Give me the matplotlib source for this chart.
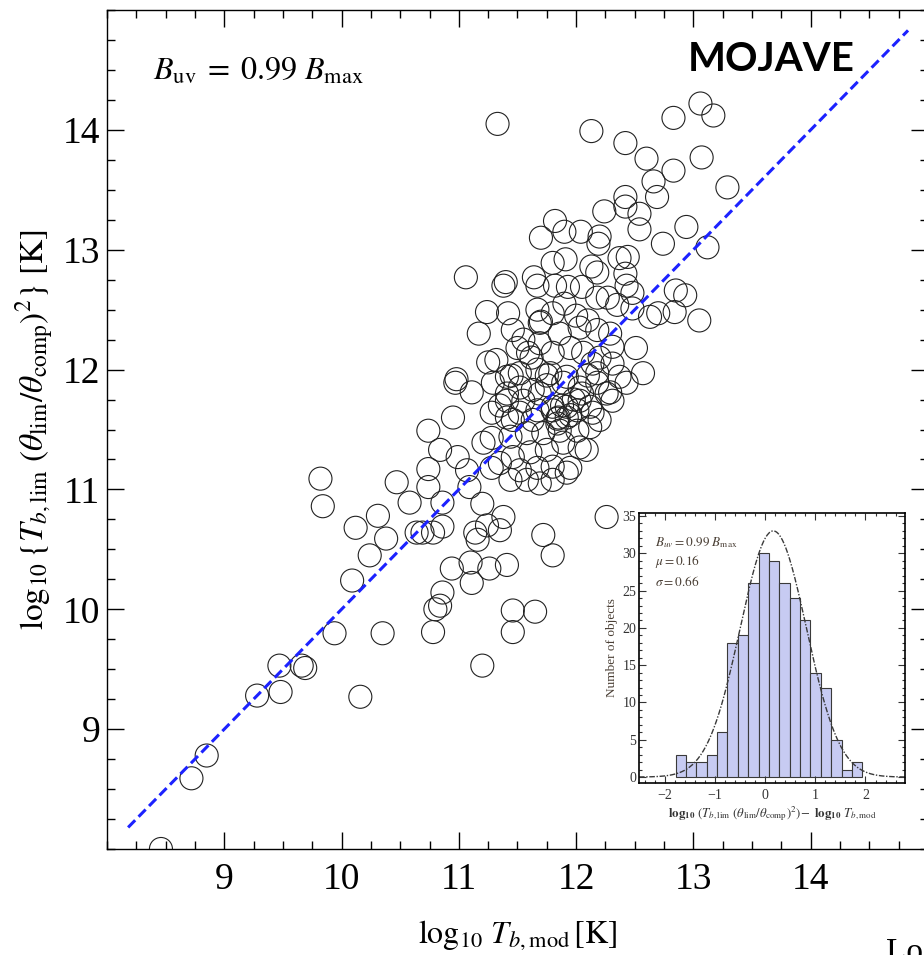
import numpy as np
import matplotlib
matplotlib.use('Agg')
import matplotlib.pyplot as plt
from matplotlib.ticker import MultipleLocator

plt.rcParams['font.family'] = ['Liberation Serif', 'DejaVu Serif']
plt.rcParams['mathtext.fontset'] = 'stix'

# log10 T_b,mod (x) and log10 T_b,lim (theta_lim/theta_comp)^2 (y)
t_mod = [11.33, 12.13, 12.42, 12.60, 12.83, 13.17, 13.06, 12.83, 12.66, 12.69,
         13.07, 13.29, 12.42, 12.42, 12.24, 12.54, 12.54, 12.94, 12.74, 13.12,
         11.82, 11.90, 12.04, 11.70, 12.20, 12.19, 11.80, 11.91, 11.64, 12.13,
         12.18, 12.37, 12.44, 12.42, 11.06, 11.40, 11.38, 11.67, 11.82, 11.93,
         12.05, 12.18, 12.27, 12.43, 12.48, 12.35, 12.48, 12.85, 12.93, 12.84,
         12.70, 12.63, 13.05, 11.24, 11.42, 11.17, 11.46, 11.67, 11.69, 11.80,
         11.90, 12.03, 12.10, 12.18, 11.86, 12.29, 12.31, 12.51, 11.25, 11.32,
         11.50, 11.59, 11.69, 11.80, 11.95, 12.06, 12.14, 12.31, 12.57, 10.98,
         11.41, 11.52, 11.67, 11.78, 11.92, 12.18, 12.37,
         9.82, 9.84, 10.12, 10.31, 10.38, 10.24, 10.09, 10.47, 10.58, 10.74,
         10.84, 10.74, 10.74, 10.86, 10.64, 10.69, 10.78, 10.86, 10.94, 10.86,
         10.80, 10.84, 10.78, 10.35, 9.94, 9.47, 9.66, 9.69, 9.48, 9.28,
         10.16, 8.85, 8.72, 8.46, 11.20, 11.10, 11.11, 11.26, 11.20, 11.14,
         11.16, 11.24, 11.09, 11.07, 10.95, 10.99, 11.11, 11.21, 11.28, 11.28,
         11.28, 10.97, 11.29,
         11.41, 11.52, 11.63, 11.75, 11.89, 12.03, 12.18, 12.29, 12.43, 11.41,
         11.52, 11.67, 11.80, 11.84, 11.92, 12.01, 12.12, 12.20, 12.31, 11.44,
         11.58, 11.72, 11.86, 12.01, 12.12, 12.03, 12.09, 11.89, 11.75, 11.61,
         11.46, 11.35, 11.52, 11.67, 11.80, 11.95, 11.92, 11.44, 11.69, 11.58,
         11.80, 12.26, 11.38, 11.72, 11.80, 11.41, 11.46, 11.65, 11.46, 11.35,
         11.95, 11.88, 11.98, 11.85, 12.05, 11.75, 11.62, 11.55, 11.70, 12.00,
         12.20, 11.45, 11.35, 12.10,
         11.41, 11.55, 11.69, 11.80, 11.92, 12.03, 12.14, 11.46, 11.63, 11.84,
         12.26]
t_lim = [14.05, 13.99, 13.89, 13.76, 14.10, 14.12, 14.22, 13.66, 13.57, 13.44,
         13.77, 13.52, 13.44, 13.36, 13.32, 13.30, 13.17, 13.19, 13.05, 13.02,
         13.24, 13.15, 13.15, 13.10, 13.11, 13.05, 12.89, 12.92, 12.77, 12.86,
         12.81, 12.93, 12.94, 12.80, 12.77, 12.73, 12.70, 12.70, 12.70, 12.69,
         12.69, 12.60, 12.60, 12.70, 12.64, 12.54, 12.51, 12.66, 12.62, 12.48,
         12.47, 12.44, 12.41, 12.48, 12.47, 12.30, 12.33, 12.50, 12.39, 12.47,
         12.55, 12.35, 12.41, 12.33, 12.30, 12.30, 12.19, 12.18, 12.06, 12.08,
         12.18, 12.14, 12.22, 12.14, 12.18, 12.14, 12.05, 12.05, 11.97, 11.92,
         11.94, 11.97, 12.00, 11.97, 11.94, 11.97, 11.94,
         11.09, 10.86, 10.68, 10.78, 10.59, 10.45, 10.24, 11.06, 10.89, 11.49,
         11.33, 11.17, 11.02, 10.89, 10.64, 10.64, 10.64, 10.69, 10.34, 10.14,
         10.00, 10.03, 9.81, 9.80, 9.80, 9.53, 9.53, 9.51, 9.31, 9.28,
         9.27, 8.78, 8.59, 8.00, 9.53, 10.39, 10.22, 10.34, 10.88, 10.64,
         10.58, 10.70, 11.02, 11.16, 11.60, 11.27, 11.81, 11.39, 11.43, 11.18,
         11.64, 11.89, 11.89,
         11.80, 11.85, 11.83, 11.87, 11.89, 11.85, 11.89, 11.81, 11.89, 11.60,
         11.64, 11.66, 11.69, 11.55, 11.60, 11.66, 11.69, 11.58, 11.74, 11.44,
         11.47, 11.47, 11.49, 11.49, 11.52, 11.35, 11.33, 11.39, 11.33, 11.31,
         11.27, 11.22, 11.16, 11.18, 11.19, 11.18, 11.14, 11.08, 11.05, 11.08,
         11.08, 10.77, 10.77, 10.62, 10.45, 10.37, 9.99, 9.98, 9.81, 10.66,
         11.62, 11.70, 11.75, 11.60, 11.80, 11.95, 12.10, 12.25, 12.40, 12.45,
         12.10, 11.95, 11.70, 11.95,
         11.74, 11.74, 11.80, 11.66, 11.69, 11.74, 11.64, 11.58, 11.58, 11.59,
         11.80]

# one-to-one line
line_x = [8.18, 14.83]
line_y = [8.18, 14.83]

# inset histogram of the residuals
bin_start = -1.79
bin_width = 0.207
counts = [3, 2, 2, 3, 6, 18, 19, 26, 30, 29, 26, 24, 21, 14, 12, 5, 1, 2]
mu, sigma, peak = 0.16, 0.66, 33.0

fig = plt.figure(figsize=(9.24, 9.55), dpi=100)
ax = fig.add_axes([0.1158, 0.1110, 0.8885, 0.8785])

ax.scatter(t_mod, t_lim, s=275, facecolors='none', edgecolors='#222222',
           linewidths=0.8, zorder=2)
ax.plot(line_x, line_y, color='#1c22ff', lw=2.2, ls=(0, (3.3, 1.6)), zorder=3)

ax.set_xlim(8, 15)
ax.set_ylim(8, 15)
ax.xaxis.set_minor_locator(MultipleLocator(0.25))
ax.yaxis.set_minor_locator(MultipleLocator(0.25))
ax.set_xticks([9, 10, 11, 12, 13, 14])
ax.set_yticks([9, 10, 11, 12, 13, 14])
ax.tick_params(which='both', direction='in', top=True, right=True, width=1.0)
ax.tick_params(which='major', length=12, labelsize=27)
ax.tick_params(which='minor', length=6)
ax.tick_params(axis='x', pad=10)
ax.tick_params(axis='y', pad=5)
for sp in ax.spines.values():
    sp.set_linewidth(1.0)

ax.set_xlabel(r'$\log_{10}\,T_{b,\mathrm{mod}}\,[\mathrm{K}]$', fontsize=23, va='center')
ax.xaxis.set_label_coords(0.5, -0.103)
ax.set_ylabel(r'$\log_{10}\{T_{b,\mathrm{lim}}\ (\theta_{\mathrm{lim}}/\theta_{\mathrm{comp}})^2\}\ [\mathrm{K}]$',
              fontsize=24, va='center')
ax.yaxis.set_label_coords(-0.088, 0.5)

ax.text(0.056, 0.9166, r'$B_{\mathrm{uv}}\;=\;0.99\ B_{\mathrm{max}}$', transform=ax.transAxes,
        fontsize=23, ha='left', va='baseline')
ax.text(0.708, 0.9416, 'MOJAVE', transform=ax.transAxes, fontsize=29,
        family='Lato', fontweight='bold', ha='left', va='center')

# inset
ins = fig.add_axes([0.6916, 0.1801, 0.2879, 0.2827])
ins.set_facecolor('white')
edges = bin_start + bin_width * np.arange(len(counts))
ins.bar(edges, counts, width=bin_width, align='edge', color='#c7cbf2',
        edgecolor='#3a3a3a', linewidth=0.8)
gx = np.linspace(-2.52, 2.79, 300)
ins.plot(gx, peak * np.exp(-0.5 * ((gx - mu) / sigma) ** 2), color='#3a3a3a',
         lw=1.0, ls=(0, (4, 1.2, 1, 1.2)))
ins.set_xlim(-2.52, 2.79)
ins.set_ylim(-0.8, 35.4)
ins.set_xticks([-2, -1, 0, 1, 2])
ins.set_xticklabels(['\u22122', '\u22121', '0', '1', '2'])
ins.set_yticks([0, 5, 10, 15, 20, 25, 30, 35])
ins.xaxis.set_minor_locator(MultipleLocator(0.2))
ins.yaxis.set_minor_locator(MultipleLocator(1))
ins.tick_params(which='both', direction='in', top=True, right=True, width=0.8,
                labelsize=10, colors='#333333')
ins.tick_params(which='major', length=5)
ins.tick_params(which='minor', length=2.5)
ins.tick_params(axis='x', pad=4)
ins.tick_params(axis='y', pad=2)
for sp in ins.spines.values():
    sp.set_linewidth(1.2)
ins.set_ylabel('Number of objects', fontsize=9.5, color='#4a3f35', va='center')
ins.yaxis.set_label_coords(-0.10, 0.5)
ins.set_xlabel(r'$\mathbf{log_{10}}\ (T_{b,\mathrm{lim}}\ (\theta_{\mathrm{lim}}/\theta_{\mathrm{comp}})^2)\!-\ \mathbf{log_{10}}\ T_{b,\mathrm{mod}}$',
               fontsize=9.3, color='#333333', va='center')
ins.xaxis.set_label_coords(0.5, -0.112)
ins.text(0.06, 0.889, r'$B_{uv} = 0.99\ B_{\mathrm{max}}$', transform=ins.transAxes,
         fontsize=9.5, color='#4a3f35', va='center')
ins.text(0.06, 0.819, r'$\mu = 0.16$', transform=ins.transAxes,
         fontsize=9.5, color='#4a3f35', va='center')
ins.text(0.06, 0.744, r'$\sigma = 0.66$', transform=ins.transAxes,
         fontsize=9.5, color='#4a3f35', va='center')

fig.text(886 / 924, -0.006, 'Lo', fontsize=24, ha='left', va='baseline')

fig.savefig('out.png', dpi=100)
